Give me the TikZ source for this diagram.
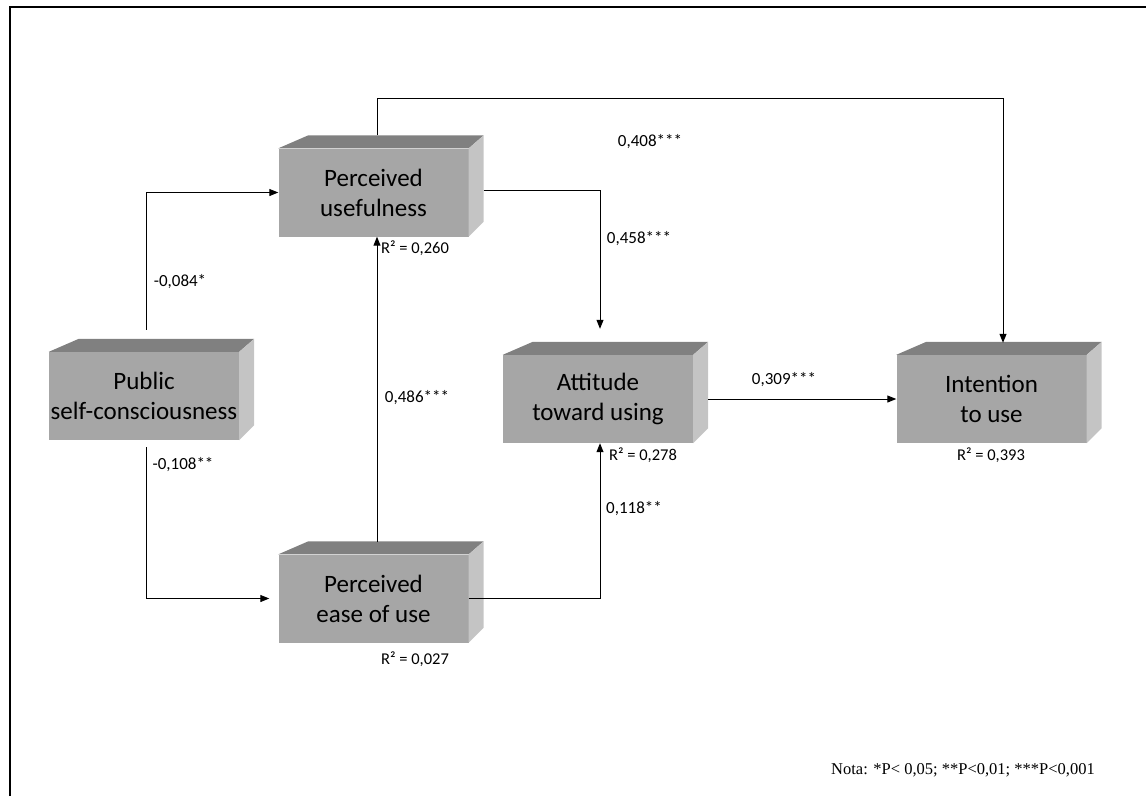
\documentclass[tikz,border=0pt]{standalone}
\usepackage{fontspec}
\setmainfont{Carlito}
\newfontfamily\notefont{Liberation Serif}
\usetikzlibrary{arrows.meta,calc}
\definecolor{boxfront}{RGB}{166,166,166}
\definecolor{boxtop}{RGB}{128,128,128}
\definecolor{boxside}{RGB}{196,196,196}
\newcommand{\boxfaces}[1]{%
  \fill[boxtop] (#1.north west) -- ++(30,-13) -- ($(#1.north east)+(15,-13)$) -- (#1.north east) -- cycle;
  \fill[boxside] (#1.north east) -- ++(15,-13) -- ($(#1.south east)+(15,-15)$) -- (#1.south east) -- cycle;
}
\begin{document}
\begin{tikzpicture}[x=1pt,y=-1pt,
  front/.style={rectangle, fill=boxfront, minimum width=190pt, minimum height=88pt, inner sep=0pt, align=center, font=\fontsize{25}{30}\selectfont},
  lbl/.style={font=\fontsize{17}{20}\selectfont, inner sep=0pt},
  rlbl/.style={font=\fontsize{16.5}{20}\selectfont, inner sep=0pt},
  note/.style={font=\notefont\fontsize{16.5}{20}\selectfont, inner sep=0pt},
  arr/.style={-{Triangle[length=9pt,width=7pt]}, line width=1pt},
  frame/.style={line width=2pt}]
\useasboundingbox (0,0) rectangle (1146,796);
\draw[frame] (10,796) -- (10,7) -- (1146,7);

\node[front] (psc) at (144,396) {Public\\self-consciousness};
\node[front] (pu) at (373.5,192.5) {Perceived\\usefulness};
\node[front] (peou) at (373.5,598.5) {Perceived\\ease of use};
\node[front] (atu) at (598,399) {Attitude\\toward using};
\node[front] (itu) at (991.5,399) {Intention\\to use};
\boxfaces{psc}
\boxfaces{pu}
\boxfaces{peou}
\boxfaces{atu}
\boxfaces{itu}

\draw[arr] ($(pu.north)+(3.5,-13)$) -- ++(0,-37) -| ($(itu.north)+(11.5,-12)$);
\draw[arr] ($(psc.north)+(2,-22)$) |- (pu.west);
\draw[arr] ($(psc.south)+(2,7)$) |- ($(peou.west)+(-9,0)$);
\draw[arr] ($(peou.north)+(3.5,-12)$) -- ($(pu.south)+(3.5,0)$);
\draw[arr] ($(pu.east)+(15,-2)$) -| ($(atu.north)+(2,-26)$);
\draw[arr] (peou.east) -| ($(atu.south)+(2,0)$);
\draw[arr] ($(atu.east)+(15,0)$) -- (itu.west);

\node[lbl] (l1) at (650,142) {0,408***};
\node[lbl] (l2) at (180,282) {-0,084*};
\node[lbl] (l3) at (183,465) {-0,108**};
\node[lbl] (l4) at (417,398) {0,486***};
\node[lbl] (l5) at (639,239) {0,458***};
\node[lbl] (l6) at (634,509) {0,118**};
\node[lbl] (l7) at (784,380) {0,309***};
\node[rlbl] (r1) at (415,248) {R² = 0,260};
\node[rlbl] (r2) at (643,455) {R² = 0,278};
\node[rlbl] (r3) at (415,659) {R² = 0,027};
\node[rlbl] (r4) at (991,455) {R² = 0,393};
\node[note] (nota) at (963,770) {Nota: *P< 0,05; **P<0,01; ***P<0,001};
\end{tikzpicture}
\end{document}
